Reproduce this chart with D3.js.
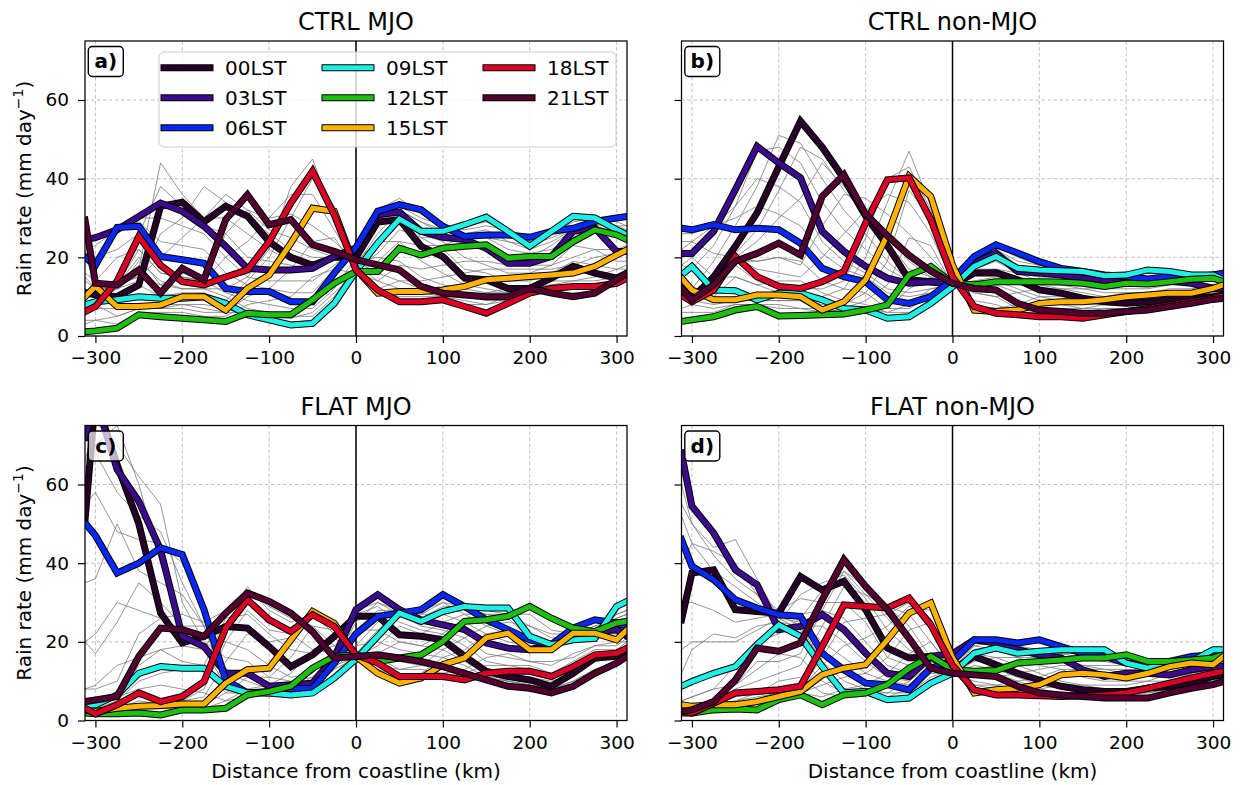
<!DOCTYPE html>
<html>
<head>
<meta charset="utf-8">
<script src="https://cdn.jsdelivr.net/npm/d3@7"></script>
<style>
  body { margin: 0; background: #fff; }
  svg { display: block; }
  text { font-family: "DejaVu Sans", sans-serif; fill: #000; }
</style>
</head>
<body>
<svg id="chart" width="1241" height="785"></svg>
<script>
// Distance from coastline (km) of each sample; negative = inland
const distance = [-312, -300, -275, -250, -225, -200, -175, -150, -125, -100, -75, -50, -25, 0,
                  25, 50, 75, 100, 125, 150, 175, 200, 225, 250, 275, 300, 312];

const lstNames = ["00LST", "03LST", "06LST", "09LST", "12LST", "15LST", "18LST", "21LST"];
const lstColors = ["#260027", "#3c0a8c", "#0a28f5", "#1ef0e6", "#1fbf10", "#ffb300", "#dc0026", "#520030"];

const xTicks = [-300, -200, -100, 0, 100, 200, 300];
const yTicks = [0, 20, 40, 60];

// Rain rate (mm/day), 3-hourly composites — CTRL MJO
const ctrlMjoLST = [
  [11,10.5,10,13,33,34,29,33,30.5,24,20,18,20,20,29,29.6,22.8,20.2,14.7,14.3,12.1,12.1,14.7,17.7,16,14.7,16],
  [24.5,25,27,30.4,33.8,31.7,27.9,22.8,17.2,16.8,16.8,17.2,20.2,22.4,30.8,31.5,26.6,25.1,24.5,22.3,18.5,18.5,20.2,26.6,27.4,21.5,21.5],
  [20,18,27.6,27.9,20.2,19.4,18.5,12.1,11.3,11.3,8.7,8.7,16,22.5,31.7,33.4,32.1,27.9,25.3,25.7,25.7,25.1,26.6,27.4,29.1,30,30.4],
  [7.9,8.7,9.2,10,9.6,9.6,10,8.3,5.4,4.1,2.8,3.2,8.3,16.5,23.6,29.7,26.6,26.6,28.3,30.2,26.6,22.8,26.6,30.4,30,27,25.7],
  [1.1,1.3,2,5.4,4.9,4.5,4.1,3.7,5.8,5.4,5.4,9.2,13.4,16.4,16.4,22.3,20.6,22.3,22.8,23.2,19.8,20.2,20.2,24,27,25.7,24.5],
  [10,12.6,7.5,7.5,7.9,10,10,6.6,12.1,15.5,23.6,32.5,31.7,17,10.9,11.3,11.3,11.7,12.6,14.3,14.7,15.1,15.5,16,17.7,20.6,21.9],
  [6.2,7.5,14,25.3,18,13.8,13,15,16.8,24,33.8,41.9,30.8,16.8,11.7,8.7,8.7,9.2,7.5,5.8,8.3,10.9,12.1,12.6,12.6,13.4,14.7],
  [29.5,13.4,13,16.8,10.9,17.2,14.3,29.6,35.9,28.3,29.6,23.2,21.5,19.4,18.1,16.8,12.6,10.9,10.4,10,10,12.1,10.9,10,10.9,14.3,16]
];
// Remaining hourly composites — CTRL MJO
const ctrlMjoHourly = [
  [20,14,13,15,20,25,30,36,32,27,25,22,20,19,20,19,15,13,12,11,11,12,12,12,12,14,15],
  [15,12,12,14,26,30,38,34,30,26,22,20,20,19,24,24,19,16,13,12,11,12,13,14,14,15,15],
  [14,12,12,17,44,36,30,30,26,22,19,18,20,20,30,31,25,22,17,16,14,14,16,19,18,17,17],
  [20,20,22,26,38,33,28,26,20,19,18,17,20,21,31,33,26,24,20,18,16,16,18,23,22,19,19],
  [22,23,27,30,30,28,26,20,15,14,14,14,18,22,31,32,29,26,24,23,20,20,23,27,27,25,25],
  [21,20,27,29,24,23,22,16,13,12,11,11,17,22,32,35,31,27,25,25,24,23,25,27,28,28,28],
  [16,14,20,22,16,15,14,11,9,8,7,7,12,20,28,33,30,28,27,28,27,24,26,29,30,29,28],
  [12,11,14,15,13,12,12,10,7,6,5,5,10,18,26,32,29,27,28,29,27,23,27,30,30,28,27],
  [6,7,7,8,8,8,8,7,5,4,3.5,4,9,17,21,27,25,25,26,27,24,22,24,27,29,27,25],
  [4,4,5,7,7,7,6,6,6,5,4.5,6,11,16,19,24,23,23,25,25,22,21,22,25,28,26,25],
  [3,4,3,6,6,6,5,5,8,9,10,15,17,16,14,18,17,18,19,19,18,18,18,20,22,22,23],
  [6,8,5,7,7,8,7,6,10,12,17,24,25,17,12,14,14,15,16,17,17,17,17,18,20,21,22],
  [9,11,10,13,10,11,11,9,14,20,30,40,33,17,11,10,10,10,10,11,12,13,14,14,15,17,18],
  [8,9,12,19,14,12,12,12,15,22,38,45,30,17,11,9,9,9,8,8,10,12,13,13,13,14,16],
  [12,10,13,22,16,15,14,20,24,30,36,36,27,18,14,12,11,10,9,8,9,11,11,12,12,14,15],
  [22,12,13,20,13,16,14,26,32,30,31,28,24,19,16,14,12,11,10,9,9,12,11,11,11,14,16]
];

// CTRL non-MJO
const ctrlNonMjoLST = [
  [14,9.6,15,22.8,31.3,43,54.6,48,40,30.5,23,14.3,13.8,13,16,16.1,14.3,11.7,10.9,9.6,8.7,8.3,8.7,9.2,9.6,10,10.4],
  [21,21,26.6,37.2,48.2,44,40.2,26.6,21.5,17.7,14.7,13.4,13.8,13.5,18.5,21.1,16.4,16,15.5,14.7,13.8,14.3,14.3,14,13.4,12.1,12.1],
  [27.4,27,28.3,27,27.4,27,23.6,17.2,15.1,13.8,9.2,8.3,10,14.3,20.2,23.2,21.1,18.9,17.2,16.4,15.5,15.1,14.5,15.1,15.1,15.5,16],
  [15.5,17.7,11.7,11.5,9.2,10.9,10.9,9.2,7,6.6,4.5,4.9,8.3,12.5,17.7,20.2,17.2,16.8,16.6,16.4,15.3,15.5,16.8,16.4,15.5,15.5,14.3],
  [3.7,4.1,4.9,6.6,7.5,5.1,5.2,5.4,5.6,6.6,7.9,15.5,17.7,13.4,13,13.8,13.8,13.8,13.7,13.4,12.6,13.4,13.2,13.8,14.4,14.7,13.8],
  [14.7,11.7,9.2,9.2,10.4,10.4,10,6.6,8.7,14.3,25.7,40.6,35.5,18,6.6,6.2,6.6,8.3,8.7,8.7,9.2,10,10.4,10.9,10.9,12.1,13],
  [10.4,8.7,11.7,20.2,15.1,12.6,12.1,13.8,16.4,28.7,39.7,40.2,29.6,15,7.5,5.8,5.4,4.9,4.9,4.5,5.4,6.2,7,7.9,8.7,9.6,10.2],
  [12,9.2,13,19,21,23.6,20.6,35.5,41,31,25.5,20.5,16.5,13.4,12.1,11.7,8.3,6.6,6.2,5.8,5.8,6.2,6.6,7.5,8.3,9.3,9.6]
];
const ctrlNonMjoHourly = [
  [13,10,14,20,24,30,35,44,38,32,26,19,15,13,13,13,11,9,8,7,7,7,7,8,9,9,10],
  [14,10,14,21,27,37,48,45,37,31,24,17,15,13,14,14,12,10,9,8,8,8,8,8,9,10,10],
  [16,12,19,28,38,51,49,40,32,26,19,14,14,13,17,17,15,13,12,11,10,9,9,10,10,10,11],
  [18,17,23,33,47,48,44,34,27,22,17,14,14,13,17,19,16,14,13,12,11,11,11,11,11,11,11],
  [24,24,28,33,40,38,34,24,19,16,12,11,12,13,19,22,18,17,16,15,14,14,14,14,14,13,13],
  [26,26,28,30,33,31,28,21,17,15,11,10,11,13,20,23,20,18,17,16,15,15,14,14,14,14,14],
  [22,24,21,20,19,20,19,14,12,11,7,7,10,13,19,22,19,18,17,16,16,15,15,15,15,15,15],
  [18,20,15,15,13,14,14,11,9,8,6,6,9,12,18,21,18,17,17,16,15,15,16,16,15,15,15],
  [11,12,9,10,9,9,9,8,7,7,6,8,12,13,16,17,16,15,15,15,14,14,15,15,15,15,14],
  [7,8,7,8,8,7,7,7,6,7,7,12,15,13,14,15,15,14,14,14,13,14,14,14,15,15,14],
  [6,6,6,8,8,8,7,6,7,9,13,25,23,13,11,10,11,12,12,12,12,12,12,13,13,13,13],
  [10,9,8,9,9,9,9,6,8,11,19,37,30,14,8,7,8,10,10,10,10,11,11,12,12,13,13],
  [12,10,10,15,13,11,11,10,12,20,34,47,33,14,7,6,6,7,7,7,8,8,9,10,10,11,12],
  [11,9,11,18,14,12,12,12,14,25,40,43,32,14,7,6,6,6,6,6,7,7,8,9,9,10,11],
  [11,9,12,20,17,16,15,20,26,32,36,34,26,14,9,8,6,6,5,5,6,6,7,8,8,9,10],
  [12,9,12,19,19,20,18,28,36,35,31,26,20,14,11,10,7,6,6,5,6,6,7,7,8,9,10]
];

// FLAT MJO
const flatMjoLST = [
  [51,82,65,50,27.3,19.7,21.4,23.9,23.5,18.8,13.7,16.7,21.4,26.5,26.5,21.8,21.4,20.5,16.3,12.5,11.2,10.3,8.7,12,15.9,16.3,18],
  [72,82,63.8,55.7,43.4,21.4,18.8,12,12,8.7,9.1,9.5,16,28.2,32,28.2,25.6,24.3,23.1,19.7,18.4,18,19.3,20.9,22.6,23.1,21.4],
  [50.2,47,37.5,40,43.9,42.2,28.2,10.3,7,7.4,8,8.2,14.6,22,26.5,27.3,28.2,32,29,25.6,23.1,20.5,19.3,23.5,25.6,24.8,23.9],
  [3.6,4,6.5,12,13.7,13.3,13.3,8.7,7,7,6.5,7,10.8,15.6,21.4,27.3,25.2,27.7,29,28.6,28.6,21.4,19.3,20.5,20.9,29,30.3],
  [1.9,1.7,1.7,1.9,1.4,2.7,2.7,3.1,6.5,7.4,8.7,13.3,16.3,16.7,15,15.9,16.7,20.1,25.2,25.6,26.5,29,26,23.5,22.6,24.8,25.2],
  [2.7,2.3,3.1,3.6,3.8,4.2,4.2,9.5,12.9,13.3,20.5,27.7,24.7,16.3,12,9.5,10.8,14.2,15.9,21,22.2,18,18,22.2,22.2,20.5,23.1],
  [3.1,1.7,4,7,4.8,6.1,9.9,23.5,30.7,25.6,22.6,26.9,23.9,16.7,14.6,11.2,11.2,11.2,10.3,12,12.5,12.5,11.2,13.7,16.7,17.1,18.4],
  [4.8,5.2,6.1,16.3,23.5,23.1,21.4,27.3,32.4,30.3,27.3,22.6,15.9,16.3,16.7,15.9,15,13.7,12,10.3,8.7,8.2,7,8.7,12,14.6,16.3]
];
const flatMjoHourly = [
  [8,8,10,22,26,27,25,28,30,26,22,18,17,19,20,18,17,16,14,11,10,9,8,9,12,15,16],
  [20,17,25,35,30,24,24,26,27,22,18,17,19,23,23,20,19,18,15,12,10,9,8,10,13,15,17],
  [60,70,75,60,40,24,21,20,18,14,11,12,18,27,29,25,23,22,19,15,14,13,12,13,16,17,18],
  [66,76,70,62,55,30,20,16,15,11,10,11,17,28,30,27,24,23,21,17,16,15,15,16,19,20,20],
  [60,68,58,52,48,35,24,12,10,8,8,9,15,25,30,28,27,27,25,22,20,19,19,21,23,23,23],
  [55,58,48,46,45,40,27,11,8,7,8,9,15,23,28,28,28,30,27,24,22,20,19,22,24,24,24],
  [35,36,50,38,35,32,24,9,7,7,7,8,13,19,25,28,27,30,29,27,26,21,19,22,24,26,27],
  [20,22,30,28,26,22,18,9,7,6,7,7,12,17,23,28,26,29,29,28,27,21,19,21,22,27,28],
  [8,9,14,16,18,15,14,7,7,7,7,9,13,16,19,24,22,25,27,27,27,24,21,21,22,27,28],
  [4,4,6,8,9,8,7,5,6,7,8,11,14,16,17,20,19,22,26,26,27,27,23,22,22,26,27],
  [2,2,2,3,3,3,3,5,8,9,12,18,21,17,14,13,14,18,21,24,25,24,22,22,22,23,24],
  [2,2,3,3,3,4,4,7,11,11,16,24,23,17,13,11,12,16,18,22,23,20,20,22,22,22,23],
  [3,2,3,5,4,5,6,15,22,20,21,28,24,16,13,10,11,12,13,16,17,15,14,17,19,19,21],
  [3,2,4,6,5,5,8,20,28,23,22,28,24,17,14,11,11,11,12,14,14,14,12,15,18,18,20],
  [4,3,5,10,12,13,14,26,34,28,25,27,22,17,16,13,13,12,11,11,11,11,10,12,15,16,18],
  [4,4,6,14,18,19,18,28,33,29,26,24,19,16,16,15,14,13,12,11,10,9,8,10,13,15,17]
];

// FLAT non-MJO
const flatNonMjoLST = [
  [25.6,37.5,38.3,28.2,27.7,27.3,36.6,33.2,35.4,28.2,18.4,15.9,16.3,13,16.3,14.2,12,10.3,8.7,7.8,7.4,7.4,8.2,8.7,9.5,11.2,11.6],
  [68,54.5,47.7,38.3,34.5,23.1,23.9,26.9,23.1,17.1,12,11.2,16.3,17,20.5,19.7,18,16.7,15.9,12.9,11.2,12,12,11.6,12.9,13.7,13.7],
  [46,39.2,35.8,30.7,28.6,26.9,26.5,17.1,12.9,9.5,9.1,7.8,13.3,15,20.5,20.5,19.7,20.5,18.8,17.1,16.3,14.6,14.2,15,16.3,16.7,17.1],
  [8.7,9.9,12,13.7,19.3,24.3,21.4,13.7,7,7.4,5.3,5.7,9.5,12,17.1,18.4,17.1,17.6,18,18,18,14.6,13.3,14.6,15,18,18],
  [1.9,1.9,2.7,2.9,2.7,5.3,6.5,4,6.5,7,9.1,13.3,16.3,13,12.5,12.7,14.6,15,15.4,15.9,15.9,16.7,15,15,15.4,15.9,16.7],
  [4,3.6,4,4,4.8,6.1,7.4,11.6,13.3,14.2,20.5,27.3,29.9,16,7,7.8,8.2,9.1,11.6,12,11.6,10.8,12,13.7,14.6,14.2,16.3],
  [2.3,1.9,4.4,7,7.4,7.8,8.7,18.8,29.4,29,28.6,31.1,24.3,14,7.8,6.5,6.5,6.3,6.1,6.3,6.5,7,8.2,9.5,10.8,12,12.5],
  [2.3,2.7,4.8,10.3,18.4,17.6,19.7,30.7,40.9,34.1,28.2,20.9,13.3,12,11.6,11.2,8.7,7,6.5,6.1,5.7,5.7,5.7,7,8.2,9.1,9.9]
];
const flatNonMjoHourly = [
  [5,6,8,14,20,22,26,33,38,32,26,20,14,12,13,12,10,8,7,7,6,6,6,7,8,9,10],
  [12,18,22,21,24,25,32,35,37,31,23,18,15,12,14,13,11,9,8,7,7,7,7,8,9,10,11],
  [40,45,43,40,32,28,31,30,30,25,16,14,15,13,17,16,14,12,10,9,8,8,9,9,10,12,12],
  [55,50,44,46,36,26,27,28,26,20,14,12,15,14,19,18,16,14,13,11,10,10,10,10,11,13,13],
  [60,50,42,36,32,25,24,24,20,15,11,10,15,15,20,20,19,17,16,14,13,13,13,13,14,15,15],
  [52,45,38,34,30,26,25,20,16,12,10,9,14,15,20,20,19,18,17,16,15,14,14,14,15,16,16],
  [30,30,28,25,26,27,24,15,10,8,7,7,11,13,19,20,18,18,18,17,17,15,14,15,16,17,17],
  [18,20,20,20,23,26,23,14,8,8,6,6,10,12,18,19,18,18,18,18,17,15,14,15,15,17,17],
  [5,6,8,9,13,17,16,10,7,7,6,8,12,12,15,16,16,16,17,17,17,16,14,15,15,17,17],
  [3,3,4,5,7,10,11,7,6,7,7,10,14,12,13,14,15,15,16,16,16,16,15,15,15,16,17],
  [2,2,3,3,3,6,7,6,8,9,12,17,20,13,11,11,12,13,14,14,14,14,14,14,15,15,16],
  [3,3,3,3,4,6,7,9,11,12,16,23,25,14,9,9,10,11,13,13,13,12,13,14,14,15,16],
  [3,3,4,5,6,7,8,14,19,21,24,29,28,14,8,7,7,8,9,9,9,9,10,12,13,13,15],
  [2,2,4,6,7,7,8,16,25,26,27,30,26,14,8,7,7,7,7,7,8,8,9,10,12,13,14],
  [2,2,5,8,10,12,14,24,34,32,29,27,20,13,9,8,7,7,6,6,6,7,7,8,10,11,12],
  [2,2,5,9,15,15,17,28,38,34,29,24,16,12,10,9,8,7,6,6,6,6,6,7,9,10,11]
];

// ---------------------------------------------------------------------------
const svg = d3.select("#chart");
const W = 542, H = 295;

const x = d3.scaleLinear().domain([-312, 312]).range([0, W]);
const y = d3.scaleLinear().domain([0, 75]).range([H, 0]);

const line = d3.line()
  .x((d, i) => x(distance[i]))
  .y(d => y(d));

const panels = [
  { id: "a", title: "CTRL MJO",     left: 85,    top: 41,    lst: ctrlMjoLST,    hourly: ctrlMjoHourly,    yLab: true,  xLab: false, legend: true },
  { id: "b", title: "CTRL non-MJO", left: 681.5, top: 41,    lst: ctrlNonMjoLST, hourly: ctrlNonMjoHourly, yLab: false, xLab: false, legend: false },
  { id: "c", title: "FLAT MJO",     left: 85,    top: 425.5, lst: flatMjoLST,    hourly: flatMjoHourly,    yLab: true,  xLab: true,  legend: false },
  { id: "d", title: "FLAT non-MJO", left: 681.5, top: 425.5, lst: flatNonMjoLST, hourly: flatNonMjoHourly, yLab: false, xLab: true,  legend: false }
];

const defs = svg.append("defs");

function outlinedLine(sel, d, color) {
  sel.append("path").attr("d", d)
    .attr("fill", "none").attr("stroke", "#000").attr("stroke-width", 7)
    .attr("stroke-linejoin", "miter").attr("stroke-linecap", "square");
  sel.append("path").attr("d", d)
    .attr("fill", "none").attr("stroke", color).attr("stroke-width", 5)
    .attr("stroke-linejoin", "miter").attr("stroke-linecap", "square");
}

panels.forEach(p => {
  const g = svg.append("g").attr("transform", `translate(${p.left},${p.top})`);

  defs.append("clipPath").attr("id", "clip-" + p.id)
    .append("rect").attr("x", 0).attr("y", 0).attr("width", W).attr("height", H);

  // grid
  const grid = g.append("g");
  grid.selectAll(".gx").data(xTicks).join("line")
    .attr("x1", d => x(d)).attr("x2", d => x(d)).attr("y1", 0).attr("y2", H)
    .attr("stroke", "#b0b0b0").attr("stroke-width", 0.8).attr("stroke-dasharray", "3.5,2.5");
  grid.selectAll(".gy").data(yTicks).join("line")
    .attr("x1", 0).attr("x2", W).attr("y1", d => y(d)).attr("y2", d => y(d))
    .attr("stroke", "#b0b0b0").attr("stroke-width", 0.8).attr("stroke-dasharray", "3.5,2.5");

  // coastline marker
  g.append("line").attr("x1", x(0)).attr("x2", x(0)).attr("y1", 0).attr("y2", H)
    .attr("stroke", "#000").attr("stroke-width", 1.5);

  const plot = g.append("g").attr("clip-path", `url(#clip-${p.id})`);

  // hourly profiles
  plot.selectAll(".hourly").data(p.hourly).join("path")
    .attr("d", d => line(d))
    .attr("fill", "none").attr("stroke", "#7a7a7a").attr("stroke-width", 0.8);

  // highlighted 3-hourly profiles
  p.lst.forEach((vals, i) => outlinedLine(plot, line(vals), lstColors[i]));

  // axes
  const xa = g.append("g").attr("transform", `translate(0,${H})`)
    .call(d3.axisBottom(x).tickValues(xTicks).tickSize(7).tickPadding(8).tickSizeOuter(0));
  const ya = g.append("g")
    .call(d3.axisLeft(y).tickValues(yTicks).tickSize(7).tickPadding(9).tickSizeOuter(0)
      .tickFormat(p.yLab ? d3.format("d") : () => ""));
  [xa, ya].forEach(a => {
    a.attr("font-size", null).attr("font-family", null);
    a.select(".domain").remove();
    a.selectAll(".tick line").attr("stroke", "#000").attr("stroke-width", 1.2);
    a.selectAll(".tick text").attr("font-size", 18.5).attr("fill", "#000");
  });

  // spines
  g.append("rect").attr("x", 0).attr("y", 0).attr("width", W).attr("height", H)
    .attr("fill", "none").attr("stroke", "#000").attr("stroke-width", 1.25);

  // title
  g.append("text").attr("x", W / 2).attr("y", -11).attr("text-anchor", "middle")
    .attr("font-size", 24).text(p.title);

  // panel letter
  const lab = g.append("g").attr("transform", "translate(3.3,5.5)");
  lab.append("rect").attr("width", 35).attr("height", 30).attr("rx", 4)
    .attr("fill", "#fff").attr("fill-opacity", 0.7)
    .attr("stroke", "#000").attr("stroke-width", 1.4);
  lab.append("text").attr("x", 17.5).attr("y", 21.5).attr("text-anchor", "middle")
    .attr("font-size", 20).attr("font-weight", "bold").text(p.id + ")");

  if (p.yLab) {
    const t = g.append("text")
      .attr("transform", `translate(${31 - p.left},${H / 2}) rotate(-90)`)
      .attr("text-anchor", "middle").attr("font-size", 20);
    t.append("tspan").text("Rain rate (mm day");
    t.append("tspan").attr("font-size", 14).attr("dy", -8).text("\u22121");
    t.append("tspan").attr("dy", 8).text(")");
  }

  if (p.xLab) {
    g.append("text").attr("x", W / 2).attr("y", H + 57.5).attr("text-anchor", "middle")
      .attr("font-size", 20).text("Distance from coastline (km)");
  }

  if (p.legend) {
    const lg = g.append("g").attr("transform", "translate(74,11)");
    lg.append("rect").attr("width", 457).attr("height", 95).attr("rx", 5)
      .attr("fill", "#fff").attr("fill-opacity", 0.8)
      .attr("stroke", "#cccccc").attr("stroke-width", 1);
    const colX = [5, 166, 327];
    lstNames.forEach((name, i) => {
      const col = Math.floor(i / 3), row = i % 3;
      const cx = colX[col], cy = 15.7 + row * 30;
      outlinedLine(lg, `M${cx},${cy}H${cx + 46}`, lstColors[i]);
      lg.append("text").attr("x", cx + 61).attr("y", cy + 7)
        .attr("font-size", 20).text(name);
    });
  }
});
</script>
</body>
</html>
